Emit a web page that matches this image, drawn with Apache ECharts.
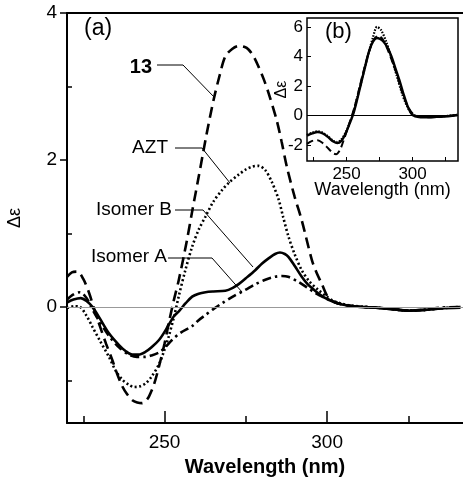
<!DOCTYPE html>
<html>
<head>
<meta charset="utf-8">
<script src="https://cdn.jsdelivr.net/npm/echarts@6/dist/echarts.min.js"></script>
<style>html,body{margin:0;padding:0;background:#fff}#c{width:463px;height:477px}</style>
</head>
<body>
<div id="c"></div>
<script>
// ---- main panel (a) data ----
const wl13 = [220,221.5,223.2,225,226.8,228.3,229.8,232,233.9,235.5,237,238.5,240.1,241.6,243.1,244.2,245.2,246.8,248.3,250,251.3,252.8,254.4,256.9,258.5,260.5,262.8,265.1,267,268.7,270.8,272.8,274.5,275.9,277.5,278.9,280.5,282,284.5,286,287.6,290,292.2,295.3,296.8,298.3,300.4,302.5,305,310,315,320,325,330,335,341];
const de13 = [0.41,0.47,0.48,0.38,0.19,-0.02,-0.22,-0.5,-0.72,-0.92,-1.08,-1.19,-1.27,-1.3,-1.31,-1.28,-1.22,-1.05,-0.81,-0.5,-0.22,0.08,0.37,0.91,1.3,1.77,2.32,2.82,3.16,3.41,3.51,3.55,3.54,3.5,3.4,3.27,3.1,2.91,2.54,2.25,1.91,1.5,1.18,0.64,0.46,0.32,0.12,0.06,0.03,0.0,-0.01,-0.03,-0.05,-0.04,-0.02,0.0];

const wlAZT = [220,222.2,224,226,227.8,230,232.9,235,237,239,240.6,242.5,244.2,246,248.3,250,251.3,253,254.4,256.4,258.5,260.5,262.6,265,267.7,270,272.8,275,277,278.9,281,283,285.1,286.5,288.1,290,292.2,294.5,297.3,299.9,302,304,307,312,318,325,330,335,341];
const deAZT = [-0.02,0.01,0.0,-0.12,-0.27,-0.45,-0.68,-0.87,-0.99,-1.06,-1.09,-1.08,-1.04,-0.95,-0.78,-0.58,-0.4,-0.12,0.15,0.5,0.82,1.05,1.23,1.43,1.59,1.7,1.8,1.87,1.91,1.92,1.86,1.7,1.46,1.22,0.96,0.72,0.5,0.35,0.23,0.14,0.08,0.05,0.02,0.0,-0.02,-0.05,-0.04,-0.02,0.0];

const wlIsoB = [220,222,224.2,226,227.8,230,232.9,236,238,240.1,242,244.2,246,248.3,250,251.3,253,254.4,256.5,258.5,260.5,262.6,265,268.7,271,272.8,275,277.9,280,282,284,285.5,287,288.1,290,292.2,294,296.3,298,299.9,302,304,306.5,310,315,320,325,330,335,341];
const deIsoB = [0.06,0.1,0.12,0.08,0.0,-0.15,-0.36,-0.52,-0.6,-0.65,-0.65,-0.61,-0.55,-0.45,-0.34,-0.24,-0.12,-0.06,0.05,0.14,0.18,0.2,0.21,0.22,0.26,0.31,0.39,0.5,0.59,0.66,0.72,0.74,0.72,0.68,0.56,0.41,0.31,0.22,0.16,0.11,0.07,0.04,0.02,0.0,-0.01,-0.03,-0.05,-0.04,-0.02,-0.01];

const wlIsoA = [220,222,224,226,228,230,233,236,239,241.5,244,246,248.3,250,252.3,255,258.5,260.5,262.6,265,267.7,271,274.8,278,281,284,286.1,288,291.2,294,296.3,299.4,302,305,308,315,320,325,330,335,341];
const deIsoA = [0.1,0.17,0.2,0.12,-0.05,-0.2,-0.4,-0.55,-0.65,-0.68,-0.68,-0.66,-0.62,-0.56,-0.45,-0.35,-0.26,-0.18,-0.11,-0.03,0.05,0.14,0.23,0.31,0.37,0.41,0.42,0.41,0.34,0.26,0.19,0.12,0.07,0.03,0.01,-0.01,-0.03,-0.05,-0.04,-0.01,0.0];

// ---- inset panel (b) data ----
const wlInSolid = [220,224,228,232,236,240,243,246,249,252,255,258,261,264,267,270,273,275,278,281,284,287,290,293,296,299,302,306,312,318,324,330,334];
const deInSolid = [-1.35,-1.2,-1.1,-1.2,-1.45,-1.75,-1.85,-1.7,-1.25,-0.6,0.1,1.1,2.2,3.3,4.35,5.0,5.25,5.2,5.0,4.6,4.0,3.2,2.4,1.5,0.7,0.15,-0.05,-0.1,-0.1,-0.08,-0.05,0.0,0.05];
const wlInDot = [220,224,228,232,236,240,243,246,250,254,258,262,266,270,273,276,280,284,288,292,296,300,305,312,320,328,334];
const deInDot = [-1.3,-1.15,-1.05,-1.15,-1.4,-1.7,-1.78,-1.6,-1.0,-0.1,1.2,2.6,4.0,5.3,6.0,5.8,5.0,3.9,2.7,1.5,0.6,0.1,-0.05,-0.08,-0.06,0.0,0.05];
const wlInDash = [220,224,228,232,236,240,242,245,248,251,254,257,260,264,268,271,274,277,280,284,288,292,296,300,305,312,320,328,334];
const deInDash = [-1.9,-1.7,-1.65,-1.85,-2.2,-2.55,-2.6,-2.3,-1.6,-0.8,0.0,0.9,2.0,3.4,4.6,5.2,5.4,5.2,4.7,3.8,2.8,1.6,0.7,0.15,-0.05,-0.1,-0.06,0.0,0.05];

// ---- ticks / labels ----
const mainXLabels = [250, 300];
const mainXMinor = [225, 275, 325];
const mainYLabels = [0, 2, 4];
const mainYMinor = [-1, 1, 3];
const inXTicks = [225, 250, 275, 300, 325];
const inXLabels = [250, 300];
const inYLabels = [-2, 0, 2, 4, 6];

const FF = '"Liberation Sans", Arial, sans-serif';
const zip = (a, b) => a.map((v, i) => [v, b[i]]);

const chart = echarts.init(document.getElementById('c'), null, {renderer: 'canvas'});

const black = '#000';
const option = {
  animation: false,
  backgroundColor: '#fff',
  grid: [
    {left: 67, top: 13, right: 0, bottom: 54, outerBoundsMode: 'none', containLabel: false},
    {left: 307, top: 18, width: 151, height: 143, outerBoundsMode: 'none', containLabel: false,
     show: true, backgroundColor: '#fff', borderColor: black, borderWidth: 1.5, z: 5}
  ],
  xAxis: [
    {gridIndex: 0, type: 'value', min: 220, max: 341.8, position: 'bottom',
     axisLine: {onZero: false, lineStyle: {color: black, width: 2}},
     axisTick: {inside: true, length: 12, customValues: mainXLabels, lineStyle: {color: black, width: 1.5}},
     axisLabel: {customValues: mainXLabels, color: black, fontSize: 19, fontFamily: FF, margin: 10},
     splitLine: {show: false},
     name: 'Wavelength (nm)', nameLocation: 'middle', nameGap: 34, nameMoveOverlap: false,
     nameTextStyle: {color: black, fontSize: 20, fontWeight: 'bold', fontFamily: FF}},
    {gridIndex: 0, type: 'value', min: 220, max: 341.8, position: 'bottom',
     axisLine: {show: false, onZero: false},
     axisTick: {inside: true, length: 7, customValues: mainXMinor, lineStyle: {color: black, width: 1.5}},
     axisLabel: {show: false}, splitLine: {show: false}},
    {gridIndex: 0, type: 'value', min: 220, max: 341.8, position: 'top',
     axisLine: {onZero: false, lineStyle: {color: black, width: 2}},
     axisTick: {show: false}, axisLabel: {show: false}, splitLine: {show: false}},
    {gridIndex: 1, type: 'value', min: 220, max: 334.4, position: 'bottom',
     axisLine: {show: false, onZero: false},
     axisTick: {inside: true, length: 4, customValues: inXTicks, lineStyle: {color: black, width: 1}},
     axisLabel: {customValues: inXLabels, color: black, fontSize: 17, fontFamily: FF, margin: 5},
     splitLine: {show: false},
     name: 'Wavelength (nm)', nameLocation: 'middle', nameGap: 20, nameMoveOverlap: false,
     nameTextStyle: {color: black, fontSize: 18, fontFamily: FF}, z: 6}
  ],
  yAxis: [
    {gridIndex: 0, type: 'value', min: -1.58, max: 4, position: 'left',
     axisLine: {onZero: false, lineStyle: {color: black, width: 2}},
     axisTick: {inside: false, length: 7, customValues: mainYLabels, lineStyle: {color: black, width: 1.5}},
     axisLabel: {customValues: mainYLabels, color: black, fontSize: 19, fontFamily: FF, margin: 10},
     splitLine: {show: false},
     name: 'Δε', nameLocation: 'middle', nameGap: 43, nameRotate: 90, nameMoveOverlap: false,
     nameTextStyle: {color: black, fontSize: 18, fontFamily: FF}},
    {gridIndex: 0, type: 'value', min: -1.58, max: 4, position: 'left',
     axisLine: {show: false, onZero: false},
     axisTick: {inside: true, length: 5, customValues: mainYMinor, lineStyle: {color: black, width: 1.5}},
     axisLabel: {show: false}, splitLine: {show: false}},
    {gridIndex: 1, type: 'value', min: -3.06, max: 6.6, position: 'left',
     axisLine: {show: false, onZero: false},
     axisTick: {inside: true, length: 4, customValues: inYLabels, lineStyle: {color: black, width: 1}},
     axisLabel: {customValues: inYLabels, color: black, fontSize: 17, fontFamily: FF, margin: 4},
     splitLine: {show: false},
     name: 'Δε', nameLocation: 'middle', nameGap: 17, nameRotate: 90, nameMoveOverlap: false,
     nameTextStyle: {color: black, fontSize: 16, fontFamily: FF}, z: 6}
  ],
  series: [
    {type: 'line', xAxisIndex: 0, yAxisIndex: 0, data: zip(wl13, de13), showSymbol: false, smooth: 0.3,
     lineStyle: {color: black, width: 2.6, type: [11, 6]},
     markLine: {silent: true, symbol: 'none', label: {show: false},
       lineStyle: {color: '#999', width: 1, type: 'solid'}, data: [{yAxis: 0}]}},
    {type: 'line', xAxisIndex: 0, yAxisIndex: 0, data: zip(wlAZT, deAZT), showSymbol: false, smooth: 0.3,
     lineStyle: {color: black, width: 2.6, type: [2, 2.5]}},
    {type: 'line', xAxisIndex: 0, yAxisIndex: 0, data: zip(wlIsoA, deIsoA), showSymbol: false, smooth: 0.3,
     lineStyle: {color: black, width: 2.6, type: [9, 4, 2.5, 4]}},
    {type: 'line', xAxisIndex: 0, yAxisIndex: 0, data: zip(wlIsoB, deIsoB), showSymbol: false, smooth: 0.3,
     lineStyle: {color: black, width: 2.6, type: 'solid'}},
    {type: 'line', xAxisIndex: 3, yAxisIndex: 2, data: zip(wlInDash, deInDash), showSymbol: false, smooth: 0.3, z: 7,
     lineStyle: {color: black, width: 2, type: [7, 4]},
     markLine: {silent: true, symbol: 'none', label: {show: false},
       lineStyle: {color: black, width: 1, type: 'solid'}, data: [{yAxis: 0}]}},
    {type: 'line', xAxisIndex: 3, yAxisIndex: 2, data: zip(wlInDot, deInDot), showSymbol: false, smooth: 0.3, z: 7,
     lineStyle: {color: black, width: 2.2, type: [1.5, 1.5]}},
    {type: 'line', xAxisIndex: 3, yAxisIndex: 2, data: zip(wlInSolid, deInSolid), showSymbol: false, smooth: 0.3, z: 7,
     lineStyle: {color: black, width: 2.4, type: 'solid'}}
  ],
  graphic: [
    {type: 'text', left: 84, top: 17, style: {text: '(a)', fontSize: 23, fontFamily: FF, fill: black}},
    {type: 'text', left: 325, top: 21, z: 20, style: {text: '(b)', fontSize: 22, fontFamily: FF, fill: black}},
    {type: 'text', x: 152, y: 67, style: {text: '13', fontSize: 20, fontWeight: 'bold', fontFamily: FF, fill: black, align: 'right', verticalAlign: 'middle'}},
    {type: 'text', x: 168, y: 148, style: {text: 'AZT', fontSize: 19, fontFamily: FF, fill: black, align: 'right', verticalAlign: 'middle'}},
    {type: 'text', x: 172, y: 210, style: {text: 'Isomer B', fontSize: 19, fontFamily: FF, fill: black, align: 'right', verticalAlign: 'middle'}},
    {type: 'text', x: 167, y: 257, style: {text: 'Isomer A', fontSize: 19, fontFamily: FF, fill: black, align: 'right', verticalAlign: 'middle'}},
    {type: 'polyline', shape: {points: [[157, 65], [183, 65], [215, 98]]}, style: {stroke: black, lineWidth: 1, fill: null}},
    {type: 'polyline', shape: {points: [[175, 148], [202, 148], [230, 183]]}, style: {stroke: black, lineWidth: 1, fill: null}},
    {type: 'polyline', shape: {points: [[175, 210], [203, 210], [253, 267]]}, style: {stroke: black, lineWidth: 1, fill: null}},
    {type: 'polyline', shape: {points: [[168, 258], [212, 258], [242, 292]]}, style: {stroke: black, lineWidth: 1, fill: null}}
  ]
};
chart.setOption(option);
</script>
</body>
</html>
